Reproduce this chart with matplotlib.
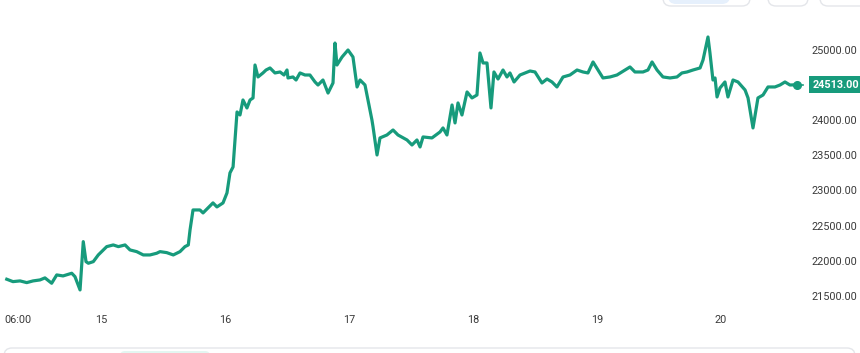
import matplotlib
matplotlib.use("Agg")
import matplotlib.pyplot as plt
from matplotlib.patches import FancyBboxPatch
from matplotlib.transforms import blended_transform_factory

# ---- data (time in days relative to the "15" tick, price) ----
days = [-0.760, -0.710, -0.653, -0.599, -0.548, -0.492, -0.452, -0.398, -0.357, -0.306,
        -0.236, -0.210, -0.169, -0.143, -0.121, -0.102, -0.062, -0.022, 0.046, 0.099,
        0.140, 0.194, 0.234, 0.288, 0.341, 0.395, 0.449, 0.476, 0.530, 0.583,
        0.637, 0.677, 0.704, 0.718, 0.742, 0.798, 0.823, 0.903, 0.935, 0.984,
        1.016, 1.040, 1.065, 1.097, 1.121, 1.145, 1.177, 1.202, 1.226, 1.242,
        1.266, 1.306, 1.331, 1.363, 1.403, 1.444, 1.476, 1.500, 1.508, 1.548, 1.573, 1.605, 1.645,
        1.685, 1.726, 1.750, 1.790, 1.831, 1.871, 1.887, 1.903, 1.944, 1.992,
        2.032, 2.065, 2.089, 2.129, 2.153, 2.185, 2.194, 2.226, 2.250, 2.306,
        2.355, 2.395, 2.468, 2.508, 2.548, 2.573, 2.597, 2.669, 2.734, 2.758,
        2.790, 2.831, 2.855, 2.879, 2.911, 2.952, 2.992, 3.032, 3.056, 3.081,
        3.113, 3.145, 3.169, 3.202, 3.242, 3.274, 3.298, 3.331, 3.379, 3.460,
        3.500, 3.556, 3.597, 3.637, 3.677, 3.726, 3.782, 3.839, 3.887, 3.927,
        3.968, 4.008, 4.048, 4.105, 4.161, 4.226, 4.266, 4.306, 4.371, 4.411,
        4.444, 4.484, 4.532, 4.589, 4.645, 4.685, 4.726, 4.774, 4.831, 4.855,
        4.895, 4.911, 4.935, 4.952, 4.968, 4.992, 5.032, 5.056, 5.097, 5.137,
        5.194, 5.218, 5.258, 5.298, 5.339, 5.379, 5.435, 5.476, 5.516, 5.556,
        5.613]
prices = [21751, 21717, 21727, 21703, 21727, 21741, 21770, 21694, 21812, 21798,
          21836, 21788, 21599, 22285, 22001, 21978, 22001, 22096, 22214, 22238,
          22214, 22238, 22167, 22143, 22096, 22096, 22120, 22143, 22129, 22096,
          22143, 22214, 22238, 22451, 22735, 22735, 22693, 22835, 22778, 22835,
          22977, 23261, 23346, 24127, 24084, 24297, 24184, 24297, 24326, 24794,
          24624, 24681, 24723, 24752, 24681, 24695, 24652, 24723, 24610, 24624, 24581, 24681, 24652,
          24652, 24553, 24510, 24581, 24396, 24539, 25106, 24794, 24908, 25007,
          24908, 24482, 24581, 24510, 24297, 24013, 23914, 23516, 23758, 23800,
          23871, 23800, 23729, 23658, 23729, 23630, 23772, 23758, 23843, 23900,
          23800, 24226, 23971, 24255, 24084, 24411, 24326, 24368, 24965, 24823,
          24823, 24184, 24695, 24595, 24723, 24624, 24681, 24553, 24652, 24709,
          24695, 24539, 24595, 24553, 24482, 24624, 24652, 24723, 24695, 24681,
          24837, 24723, 24610, 24624, 24652, 24723, 24766, 24695, 24695, 24723,
          24837, 24723, 24624, 24610, 24624, 24681, 24695, 24723, 24752, 24865,
          25192, 24965, 24581, 24610, 24340, 24468, 24553, 24340, 24581, 24553,
          24439, 24326, 23900, 24326, 24368, 24482, 24482, 24510, 24553, 24510,
          24513]

last_price = 24513.00
y_ticks = [25000, 24000, 23500, 23000, 22500, 22000, 21500]
x_tick_pos = [-0.669, 0.0, 1.0, 2.0, 3.0, 4.0, 5.0]
x_tick_labels = ["06:00", "15", "16", "17", "18", "19", "20"]

line_color = "#179b7c"
text_color = "#3a3a3a"

W, H = 860, 353
fig = plt.figure(figsize=(W / 100, H / 100), dpi=100)
ax = fig.add_axes([0, 0, 1, 1])
ax.set_axis_off()

# pixel <-> data mapping
px_per_day = 124.0
x0_px = 101.0
ax.set_xlim(-x0_px / px_per_day, (W - x0_px) / px_per_day)
px_per_unit = 35.2 / 500.0
y_top = 25000 + 50.5 / px_per_unit
y_bot = 25000 - (H - 50.5) / px_per_unit
ax.set_ylim(y_bot, y_top)

ax.plot(days, prices, color=line_color, lw=2.3, solid_joinstyle="round", zorder=3)
ax.plot([days[-1]], [prices[-1]], "o", color=line_color, ms=5.5, zorder=4)
ax.plot([days[-1], days[-1] + 6 / px_per_day], [prices[-1], prices[-1]], color=line_color, lw=1.2, zorder=3)

font = "Roboto"
ty = blended_transform_factory(ax.transAxes, ax.transData)
for v in y_ticks:
    ax.text(0.997, v, f"{v:.2f}", transform=ty, ha="right", va="center",
            fontsize=7.8, color=text_color, family=font)

tx = blended_transform_factory(ax.transData, ax.transAxes)
for p, lab in zip(x_tick_pos, x_tick_labels):
    ax.text(p, 1 - 320 / H, lab, transform=tx, ha="center", va="center",
            fontsize=7.8, color=text_color, family=font)

# price tag
ax.text(0.9995, last_price, f"{last_price:.2f}", transform=ty, ha="right", va="center",
        fontsize=7.8, color="white", family=font, fontweight="bold", zorder=6,
        bbox=dict(boxstyle="square,pad=0.32", fc=line_color, ec="none"))

# UI decorations (buttons top-right, panel bottom)
def px_box(x, y, w, h, fc, ec, r=6):
    p = FancyBboxPatch((x / W, 1 - (y + h) / H), w / W, h / H,
                       boxstyle=f"round,pad=0,rounding_size={r / W}",
                       transform=fig.transFigure, fc=fc, ec=ec, lw=1.0,
                       mutation_aspect=W / H)
    fig.patches.append(p)

px_box(663, -12, 87, 18, "white", "#e4e6ea", 8)
px_box(668, -12, 62, 16, "#e6f0fc", "none", 8)
px_box(768, -12, 40, 18, "white", "#e4e6ea", 8)
px_box(820, -12, 50, 18, "white", "#e4e6ea", 8)
px_box(4, 348, 851, 20, "white", "#e4e6ea", 8)
px_box(120, 351, 90, 10, "#e3f6f1", "none", 5)

fig.savefig("out.png", dpi=100)
